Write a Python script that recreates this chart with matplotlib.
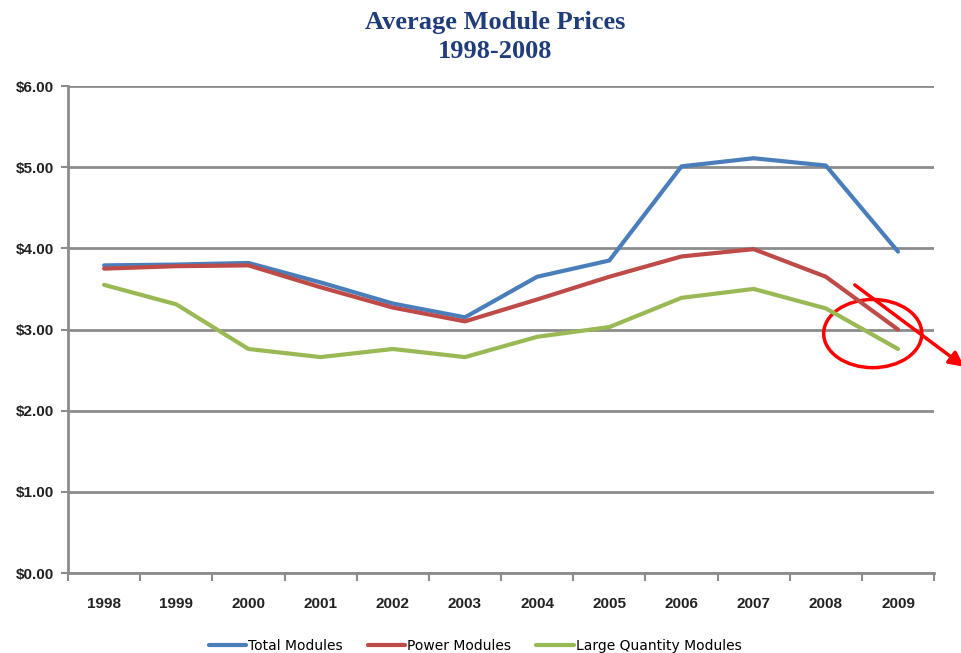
import matplotlib.pyplot as plt
from matplotlib.patches import Ellipse

years = ["1998", "1999", "2000", "2001", "2002", "2003",
         "2004", "2005", "2006", "2007", "2008", "2009"]
total_modules = [3.79, 3.80, 3.82, 3.58, 3.32, 3.15, 3.65, 3.85, 5.01, 5.11, 5.02, 3.96]
power_modules = [3.75, 3.78, 3.79, 3.52, 3.27, 3.10, 3.37, 3.65, 3.90, 3.99, 3.65, 3.00]
large_qty_modules = [3.55, 3.31, 2.76, 2.66, 2.76, 2.66, 2.91, 3.03, 3.39, 3.50, 3.26, 2.76]
y_ticks = [0, 1, 2, 3, 4, 5, 6]

grid_color = "#8c8c8c"

fig = plt.figure(figsize=(9.61, 6.53), dpi=100)
ax = fig.add_axes([0.0708, 0.1225, 0.9012, 0.7458])

x = list(range(len(years)))
ax.plot(x, total_modules, color="#4a7ebb", lw=3, label="Total Modules", solid_capstyle="round")
ax.plot(x, power_modules, color="#be4b48", lw=3, label="Power Modules", solid_capstyle="round")
ax.plot(x, large_qty_modules, color="#98b954", lw=3, label="Large Quantity Modules",
        solid_capstyle="round")

ax.set_xlim(-0.5, len(years) - 0.5)
ax.set_ylim(0, 6)
ax.set_yticks(y_ticks)
ax.set_yticklabels([f"\\${v:.2f}" for v in y_ticks], fontsize=11, fontweight="bold",
                   family="Liberation Sans", color="#222222")
ax.yaxis.grid(True, color=grid_color, lw=2)
ax.set_axisbelow(True)

# category labels in the middle, ticks on the boundaries
ax.set_xticks(x)
ax.set_xticklabels(years, fontsize=11, fontweight="bold", family="Liberation Sans",
                   color="#222222")
ax.set_xticks([i - 0.5 for i in range(len(years) + 1)], minor=True)
ax.tick_params(axis="x", which="major", length=0, pad=17)
ax.tick_params(axis="x", which="minor", length=6, width=1.5, color=grid_color, direction="out")
ax.tick_params(axis="y", length=5, width=1.5, color=grid_color, pad=5)

for side in ["top", "right"]:
    ax.spines[side].set_visible(False)
for side in ["left", "bottom"]:
    ax.spines[side].set_color(grid_color)
    ax.spines[side].set_linewidth(2)

fig.suptitle("Average Module Prices\n1998-2008", y=0.983, x=0.515, fontsize=19,
             fontweight="bold", color="#1f3d7a", family="Liberation Serif", linespacing=1.3)

ax.legend(loc="lower center", bbox_to_anchor=(0.47, -0.19), ncol=3, frameon=False,
          fontsize=10, handlelength=2.7, handletextpad=0.15, columnspacing=1.8)

# red annotation circle and arrow around the last point
ax.add_patch(Ellipse((len(years) - 1.35, 2.95), 1.36, 0.84, fill=False, color="red",
                     lw=2.5, clip_on=False))
ax.annotate("", xy=(len(years) - 0.05, 2.52), xytext=(len(years) - 1.63, 3.57),
            arrowprops=dict(arrowstyle="-|>", color="red", lw=2.5, mutation_scale=22),
            annotation_clip=False)

plt.savefig("out.png", dpi=100)
